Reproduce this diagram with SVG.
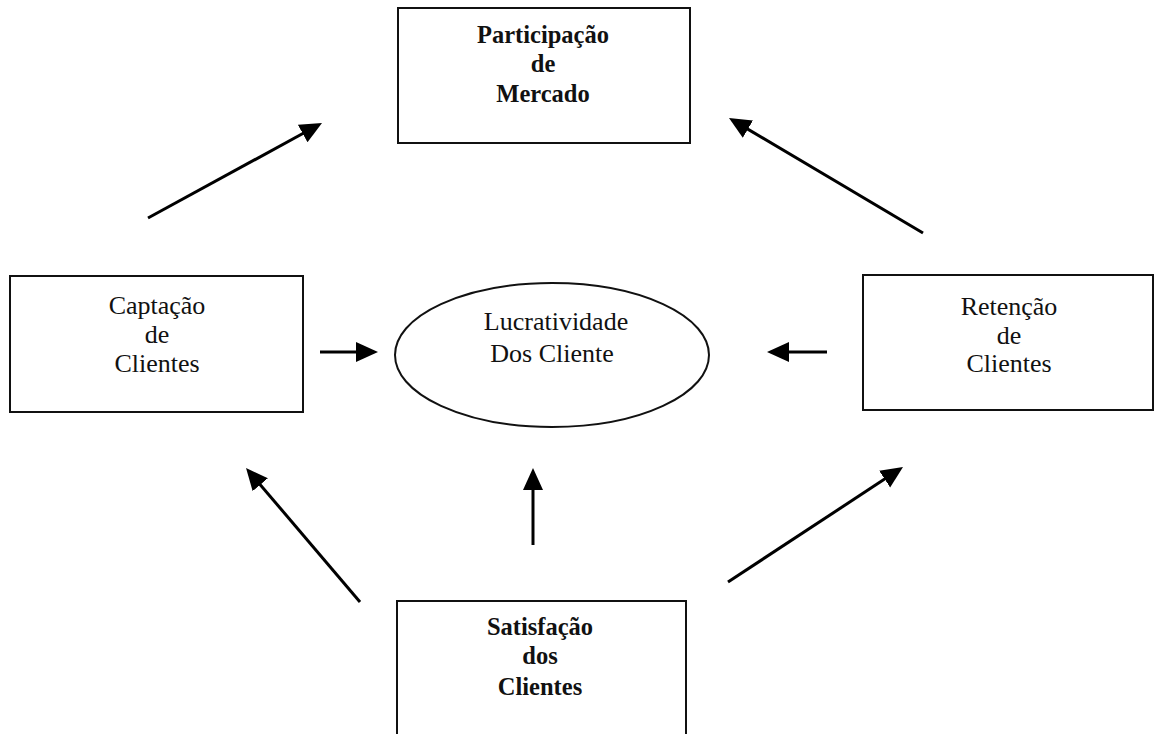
<svg xmlns="http://www.w3.org/2000/svg" width="1154" height="734" viewBox="0 0 1154 734">
<defs>
<style>
.box{fill:#fff;stroke:#111;stroke-width:2}
.t{font-family:"Liberation Serif","Times New Roman",serif;font-size:26px;fill:#111;text-anchor:middle}
.b{font-weight:bold;font-size:24.5px}
.c{stroke:#000;stroke-width:3;fill:none;marker-end:url(#ah)}
</style>
<marker id="ah" markerUnits="userSpaceOnUse" markerWidth="24" markerHeight="22" refX="10" refY="10" orient="auto">
<path d="M0,0 L22,10 L0,20 z" fill="#000"/>
</marker>
</defs>
<rect width="1154" height="734" fill="#fff"/>
<g id="participacao">
<rect class="box" x="398" y="8" width="292" height="135"/>
<text class="t b" x="543" y="43">Participação</text>
<text class="t b" x="543" y="72">de</text>
<text class="t b" x="543" y="102">Mercado</text>
</g>
<g id="captacao">
<rect class="box" x="10" y="276" width="293" height="136"/>
<text class="t" x="157" y="314">Captação</text>
<text class="t" x="157" y="343">de</text>
<text class="t" x="157" y="372">Clientes</text>
</g>
<g id="lucratividade">
<ellipse cx="552" cy="355" rx="157" ry="72" fill="#fff" stroke="#111" stroke-width="2"/>
<text class="t" x="556" y="330">Lucratividade</text>
<text class="t" x="552" y="362">Dos Cliente</text>
</g>
<g id="retencao">
<rect class="box" x="863" y="275" width="290" height="135"/>
<text class="t" x="1009" y="315">Retenção</text>
<text class="t" x="1009" y="344">de</text>
<text class="t" x="1009" y="372">Clientes</text>
</g>
<g id="satisfacao">
<rect class="box" x="397" y="601" width="289" height="140"/>
<text class="t b" x="540" y="635">Satisfação</text>
<text class="t b" x="540" y="664">dos</text>
<text class="t b" x="540" y="695">Clientes</text>
</g>
<g id="connectors">
<line class="c" x1="148" y1="218" x2="311.5" y2="128.8"/>
<line class="c" x1="923" y1="233" x2="739.3" y2="124.1"/>
<line class="c" x1="320" y1="352" x2="366" y2="352"/>
<line class="c" x1="827" y1="352" x2="779" y2="352"/>
<line class="c" x1="360" y1="602" x2="253.8" y2="477.1"/>
<line class="c" x1="728" y1="582" x2="893" y2="473.6"/>
<line class="c" x1="533" y1="545" x2="533" y2="480"/>
</g>
</svg>
